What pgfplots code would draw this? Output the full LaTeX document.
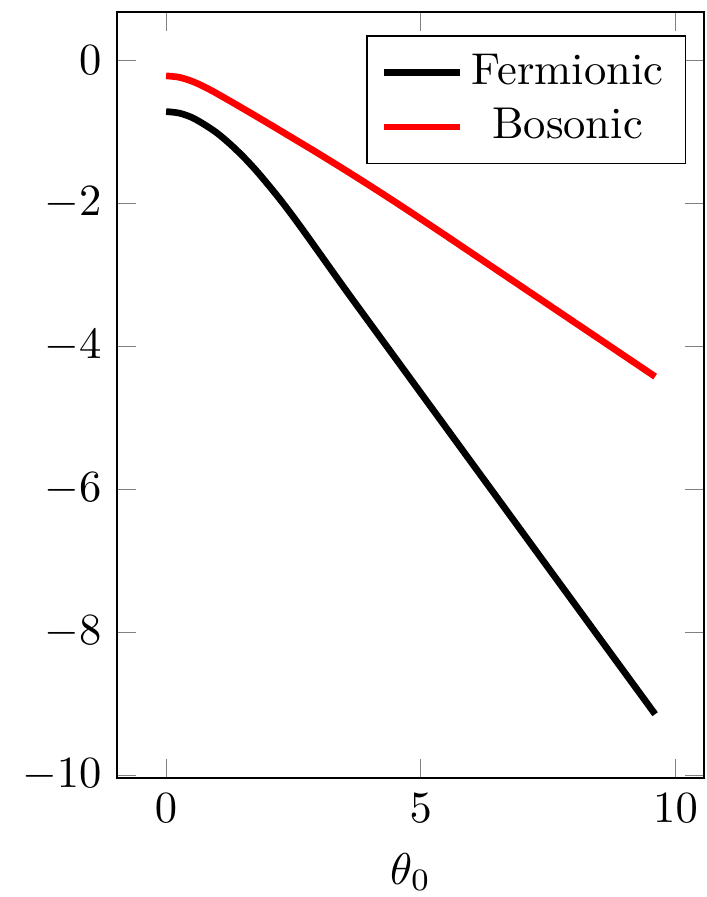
\documentclass[border=0pt]{standalone}
\usepackage{pgfplots}
\pgfplotsset{compat=1.18}
\begin{document}
\begin{tikzpicture}
\begin{axis}[
  scale only axis,
  width=131.7pt, height=171.9pt,
  xlabel={$\theta_0$},
  legend pos=north east,
  legend cell align=center,
]
\addplot[black, line width=1.5pt, smooth] coordinates {
(0,-0.72) (0.25,-0.74) (0.5,-0.80) (0.75,-0.90) (1.0,-1.02) (1.25,-1.17) (1.5,-1.34) (1.75,-1.53) (2.0,-1.74)
(2.25,-1.96) (2.5,-2.195) (2.75,-2.44) (3.0,-2.69) (3.5,-3.19) (4.0,-3.68) (4.5,-4.168) (5.0,-4.657)
(5.5,-5.145) (6.0,-5.634) (6.5,-6.122) (7.0,-6.611) (7.5,-7.10) (8.0,-7.588)
(8.5,-8.077) (9.0,-8.565) (9.6,-9.15)
};
\addlegendentry{Fermionic}
\addplot[red, line width=1.5pt, smooth] coordinates {
(0,-0.22) (0.25,-0.239) (0.5,-0.293) (0.75,-0.373) (1.0,-0.468) (1.5,-0.673) (2.0,-0.883)
(2.5,-1.096) (3.0,-1.311) (3.5,-1.531) (4.0,-1.756) (4.5,-1.986) (5.0,-2.221)
(5.5,-2.459) (6.0,-2.699) (6.5,-2.939) (7.0,-3.179) (7.5,-3.419) (8.0,-3.659)
(8.5,-3.899) (9.0,-4.139) (9.6,-4.427)
};
\addlegendentry{Bosonic}
\coordinate (tl) at (rel axis cs:0,1);
\coordinate (br) at (rel axis cs:1,0);
\end{axis}
\pgfresetboundingbox
\path ([xshift=-26.3pt,yshift=2.7pt]tl) rectangle ([xshift=0.5pt,yshift=-26.7pt]br);
\end{tikzpicture}
\end{document}
